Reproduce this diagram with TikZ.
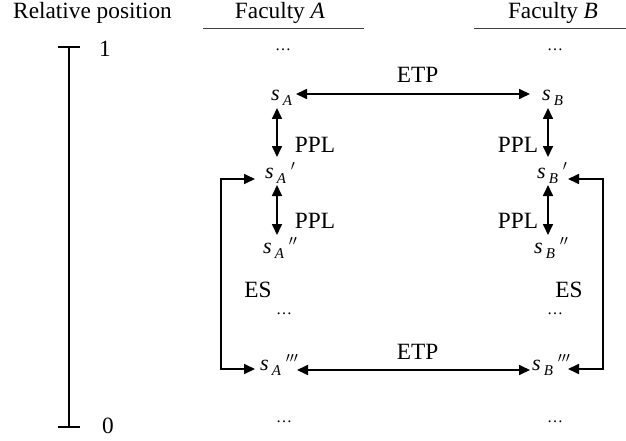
\documentclass[tikz,border=0pt]{standalone}
\usepackage{fontspec}
\setmainfont{Liberation Serif}
\usetikzlibrary{arrows.meta}
\newcommand{\slab}[2]{\fontsize{22}{22}\selectfont\textit{s}\hspace{3pt}\raisebox{-5pt}{\fontsize{15}{15}\selectfont\textit{#1}}\hspace{5pt}$^{#2}$}
\begin{document}
\begin{tikzpicture}[x=1pt,y=-1pt,
  txt/.style={font=\fontsize{23.3}{27}\selectfont, inner sep=0, anchor=base},
  lab/.style={inner sep=0, anchor=base west},
  dotsn/.style={font=\fontsize{16}{16}\selectfont, inner sep=0, anchor=base},
  arr/.style={line width=1.7pt, {Triangle[length=11pt,width=10pt]}-{Triangle[length=11pt,width=10pt]}},
  rule/.style={line width=1pt, black!75},
]
\useasboundingbox (0,0) rectangle (626,441);
% header
\node[txt] (relpos) at (92.5,19) {Relative position};
\node[txt] (facA) at (280,19) {Faculty \textit{A}};
\node[txt] (facB) at (553,19) {Faculty \textit{B}};
\draw[rule] (203,28.5) -- (364,28.5);
\draw[rule] (474,28.5) -- (626,28.5);
% scale bar
\coordinate (bartop) at (69,47);
\coordinate (barbot) at (69,427);
\draw[line width=1.5pt] (bartop) -- (barbot);
\draw[line width=1.5pt] (58,47) -- (80,47);
\draw[line width=1.5pt] (58,427) -- (80,427);
\node[txt] (one) at (105,57) {1};
\node[txt] (zero) at (108,433) {0};
% dots
\node[dotsn] (dA1) at (283,51) {…};
\node[dotsn] (dB1) at (555,51) {…};
\node[dotsn] (dA2) at (284,314) {…};
\node[dotsn] (dB2) at (555,314) {…};
\node[dotsn] (dA3) at (284,422) {…};
\node[dotsn] (dB3) at (555,422) {…};
% state labels
\node[lab] (sA) at (271,101) {\slab{A}{}};
\node[lab] (sB) at (542,101) {\slab{B}{}};
\node[lab] (sAp) at (265,178) {\slab{A}{\prime}};
\node[lab] (sBp) at (537,178) {\slab{B}{\prime}};
\node[lab] (sApp) at (263,253) {\slab{A}{\prime\prime}};
\node[lab] (sBpp) at (534,253) {\slab{B}{\prime\prime}};
\node[lab] (sAppp) at (260,370) {\slab{A}{\prime\prime\prime}};
\node[lab] (sBppp) at (532,370) {\slab{B}{\prime\prime\prime}};
% connector labels
\node[txt] (etp1) at (417.5,83) {ETP};
\node[txt] (etp2) at (417.5,359) {ETP};
\node[txt] (pplA1) at (315,153) {PPL};
\node[txt] (pplA2) at (315,228) {PPL};
\node[txt] (pplB1) at (518,153) {PPL};
\node[txt] (pplB2) at (518,228) {PPL};
\node[txt] (esL) at (258,297) {ES};
\node[txt] (esR) at (569,297) {ES};
% connectors
\draw[arr] ([shift={(25,-7)}]sA.base west) -- ([shift={(-12,-7)}]sB.base west);
\draw[arr] ([shift={(37,0)}]sAppp.base west) -- ([shift={(-2,0)}]sBppp.base west);
\draw[arr] ([shift={(6,7)}]sA.base west) -- ([shift={(12,-21)}]sAp.base west);
\draw[arr] ([shift={(12,7)}]sAp.base west) -- ([shift={(14,-18)}]sApp.base west);
\draw[arr] ([shift={(6,7)}]sB.base west) -- ([shift={(11,-21)}]sBp.base west);
\draw[arr] ([shift={(11,7)}]sBp.base west) -- ([shift={(14,-18)}]sBpp.base west);
\coordinate (loopL) at (221,270);
\coordinate (loopR) at (603,270);
\draw[arr] ([shift={(-10,1)}]sAp.base west) -| (loopL) |- ([shift={(-5,-1)}]sAppp.base west);
\draw[arr] ([shift={(31,1)}]sBp.base west) -| (loopR) |- ([shift={(36,-1)}]sBppp.base west);
\end{tikzpicture}
\end{document}
